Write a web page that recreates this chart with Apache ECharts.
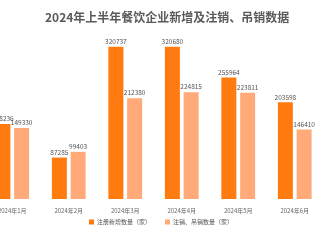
<!DOCTYPE html>
<html><head><meta charset="utf-8">
<script src="https://cdn.jsdelivr.net/npm/echarts@6/dist/echarts.min.js"></script>
<style>html,body{margin:0;padding:0;background:#fff;overflow:hidden}#c{width:339px;height:240px;margin-left:-16px}</style>
</head><body><div id="c"></div>
<script>
const categories = ['2024年1月','2024年2月','2024年3月','2024年4月','2024年5月','2024年6月'];
const newRegs = [158236, 87285, 320737, 320680, 255964, 203598];
const cancels = [149330, 99403, 212380, 224815, 223811, 146410];
const seriesNames = ['注册新增数量（家）','注销、吊销数量（家）'];
const titleText = '2024年上半年餐饮企业新增及注销、吊销数据';

const chart = echarts.init(document.getElementById('c'), null, {renderer:'canvas'});
const font = '"Noto Sans CJK SC", "Noto Sans", sans-serif';
const lbl = {show:true, position:'top', fontSize:6.5, color:'#555', distance:2, fontFamily:font};
chart.setOption({
  animation:false,
  title:{text:titleText, left:56, top:6, textStyle:{fontSize:12, fontWeight:'bold', color:'#5a5a5a', fontFamily:font}},
  grid:{left:0, right:0, top:30, bottom:41, containLabel:false},
  legend:{bottom:10, left:100, itemWidth:5, itemHeight:5, itemGap:14, icon:'rect',
    textStyle:{fontSize:6, color:'#555', fontFamily:font, padding:[0,0,0,-2]}},
  xAxis:{type:'category', data:categories, axisLine:{show:false}, axisTick:{show:false},
    axisLabel:{fontSize:6, color:'#666', margin:9, fontFamily:font}},
  yAxis:{type:'value', min:0, max:356000, show:false, splitLine:{show:false}},
  series:[
    {name:seriesNames[0], type:'bar', data:newRegs, barWidth:15, barGap:'25%', itemStyle:{color:'#FF7B0F'}, label:lbl},
    {name:seriesNames[1], type:'bar', data:cancels, barWidth:15, itemStyle:{color:'#FFAA78'}, label:lbl}
  ]
});
</script></body></html>
